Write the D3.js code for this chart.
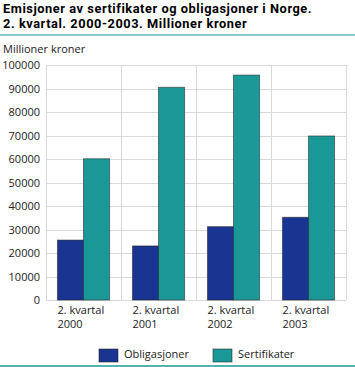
<!DOCTYPE html>
<html><head><meta charset="utf-8">
<script src="https://cdn.jsdelivr.net/npm/d3@7"></script>
<style>
body{margin:0;background:#fff;}
svg{display:block;font-family:"Open Sans",sans-serif;}
</style></head>
<body><svg id="c" width="355" height="367"></svg>
<script>
const categories = ["2000","2001","2002","2003"];
const categoryLine1 = "2. kvartal";
const seriesNames = ["Obligasjoner","Sertifikater"];
const obligasjoner = [25500, 23000, 31200, 35200];
const sertifikater = [60100, 90500, 95700, 69800];
const yTicks = [0,10000,20000,30000,40000,50000,60000,70000,80000,90000,100000];
const colors = ["#1a3491","#1a9898"];

const svg = d3.select("#c");
const L=46, R=346, T=65, B=300;
const x = d3.scaleBand().domain(categories).range([L,R]).paddingInner(0).paddingOuter(0);
const xs = d3.scaleBand().domain(seriesNames).range([0,x.bandwidth()]).paddingInner(0).paddingOuter(0.44);
const y = d3.scaleLinear().domain([0,100000]).range([B,T]);

// title
const titleLines = ["Emisjoner av sertifikater og obligasjoner i Norge.","2. kvartal. 2000-2003. Millioner kroner"];
svg.selectAll("text.title").data(titleLines).join("text").attr("class","title")
  .attr("x",3).attr("y",(d,i)=>12.5+i*15).attr("font-family","Roboto, sans-serif")
  .attr("font-weight","bold").attr("font-size",12.8).attr("letter-spacing",0.55).attr("fill","#000").text(d=>d);
svg.append("line").attr("x1",0).attr("x2",355).attr("y1",35).attr("y2",35).attr("stroke","#1a9898").attr("stroke-width",1.2);
svg.append("line").attr("x1",0).attr("x2",355).attr("y1",366).attr("y2",366).attr("stroke","#1a9898").attr("stroke-width",1.5);

svg.append("text").attr("x",3).attr("y",53).attr("font-size",11).attr("fill","#222").text("Millioner kroner");

// grid
const grid = svg.append("g");
grid.selectAll("line.h").data(yTicks).join("line").attr("class","h")
  .attr("x1",L).attr("x2",R).attr("y1",d=>Math.round(y(d))+0.5).attr("y2",d=>Math.round(y(d))+0.5)
  .attr("stroke","#d9d9d9").attr("stroke-width",1);
const vx = categories.map(c=>x(c)).concat([R]);
grid.selectAll("line.v").data(vx).join("line").attr("class","v")
  .attr("x1",d=>Math.round(d)+0.5).attr("x2",d=>Math.round(d)+0.5).attr("y1",T).attr("y2",B)
  .attr("stroke","#d9d9d9").attr("stroke-width",1);

// y axis labels
const yAxis = d3.axisLeft(y).tickValues(yTicks).tickSize(0).tickPadding(0).tickFormat(d3.format("d"));
const ya = svg.append("g").attr("transform",`translate(${L-6},0)`).call(yAxis);
ya.select(".domain").remove();
ya.selectAll("text").attr("font-size",11).attr("fill","#222").attr("font-family","Open Sans, sans-serif");

// bars
const data = categories.map((c,i)=>({c, vals:[obligasjoner[i], sertifikater[i]]}));
const g = svg.append("g");
data.forEach(d=>{
  d.vals.forEach((v,j)=>{
    g.append("rect").attr("x",x(d.c)+xs(seriesNames[j])).attr("width",xs.bandwidth())
      .attr("y",y(v)).attr("height",y(0)-y(v))
      .attr("fill",colors[j]).attr("stroke","#222").attr("stroke-opacity",0.55).attr("stroke-width",1);
  });
});

// x axis labels
const xl = svg.append("g");
categories.forEach(c=>{
  const x0 = x(c)+xs(seriesNames[0]);
  xl.append("text").attr("font-size",11).attr("fill","#222").attr("x",x0).attr("y",314).text(categoryLine1);
  xl.append("text").attr("font-size",11).attr("fill","#222").attr("x",x0).attr("y",328).text(c);
});

// legend
const legX = [99, 213];
seriesNames.forEach((s,i)=>{
  svg.append("rect").attr("x",legX[i]).attr("y",349).attr("width",19).attr("height",13)
    .attr("fill",colors[i]).attr("stroke","#222").attr("stroke-opacity",0.55);
  svg.append("text").attr("x",legX[i]+25).attr("y",358).attr("font-size",11).attr("fill","#222").text(s);
});
</script></body></html>
